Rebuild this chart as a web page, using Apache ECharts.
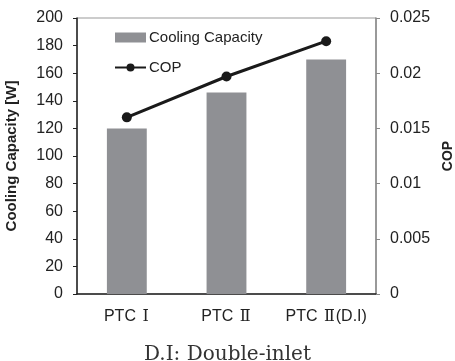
<!DOCTYPE html>
<html>
<head>
<meta charset="utf-8">
<script src="https://cdn.jsdelivr.net/npm/echarts@6/dist/echarts.min.js"></script>
<style>
  html, body { margin: 0; padding: 0; background: #fff; }
  #chart { width: 455px; height: 361px; }
</style>
</head>
<body>
<div id="chart"></div>
<script>
// Cooling capacity (bars, left axis) and COP (line, right axis) per PTC configuration
const categories = ['PTC Ⅰ', 'PTC Ⅱ', 'PTC Ⅱ(D.I)'];
const coolingCapacity = [120, 146, 170];
const cop = [0.016, 0.0197, 0.0229];
const leftTicks = { min: 0, max: 200, interval: 20 };
const rightTicks = { min: 0, max: 0.025, interval: 0.005 };

const font = '"Liberation Sans", Arial, sans-serif';
const serif = '"DejaVu Serif", "Liberation Serif", serif';
const chart = echarts.init(document.getElementById('chart'));

// Roman numerals in the category names get a serif face
function categoryLabel(value) {
  return value
    .split(/([ⅠⅡ])/)
    .filter(s => s !== '')
    .map(s => (s === 'Ⅰ' || s === 'Ⅱ') ? '{r|' + s + '}' : '{t|' + s + '}')
    .join('');
}

chart.setOption({
  animation: false,
  grid: {
    left: 77, right: 79, top: 18, bottom: 67,
    outerBoundsMode: 'none', containLabel: false,
    show: true, borderColor: '#999', borderWidth: 1
  },
  title: {
    text: 'D.I: Double-inlet',
    left: 'center',
    top: 340,
    textStyle: { fontFamily: serif, fontSize: 20, fontWeight: 'normal', color: '#333' }
  },
  legend: {
    orient: 'vertical',
    left: 109,
    top: 24,
    itemGap: 13,
    itemWidth: 31,
    itemHeight: 10,
    textStyle: { fontFamily: font, fontSize: 15, color: '#222', lineHeight: 17, padding: [0, 0, 0, -2] },
    data: [
      { name: 'Cooling Capacity', icon: 'rect' },
      { name: 'COP' }
    ]
  },
  xAxis: {
    type: 'category',
    data: categories,
    axisLine: { lineStyle: { color: '#222', width: 1.5 } },
    axisTick: { show: false },
    axisLabel: {
      interval: 0,
      fontFamily: font, fontSize: 16, color: '#222', margin: 15,
      formatter: categoryLabel,
      rich: {
        t: { fontFamily: font, fontSize: 16, color: '#222' },
        r: { fontFamily: serif, fontSize: 16, color: '#222', padding: [0, 1, 0, 2] }
      }
    }
  },
  yAxis: [
    {
      type: 'value',
      min: leftTicks.min, max: leftTicks.max, interval: leftTicks.interval,
      name: 'Cooling Capacity [W]',
      nameLocation: 'middle',
      nameGap: 58,
      nameTextStyle: { fontFamily: font, fontSize: 15, fontWeight: 'bold', color: '#222' },
      axisLine: { show: true, lineStyle: { color: '#222', width: 1.5 } },
      axisTick: { show: true, length: 4, lineStyle: { color: '#222' } },
      axisLabel: { fontFamily: font, fontSize: 16, color: '#222', margin: 14 },
      splitLine: { show: false }
    },
    {
      type: 'value',
      min: rightTicks.min, max: rightTicks.max, interval: rightTicks.interval,
      name: 'COP',
      nameLocation: 'middle',
      nameGap: 64,
      nameRotate: 90,
      nameTextStyle: { fontFamily: font, fontSize: 14, fontWeight: 'bold', color: '#222' },
      axisLine: { show: true, lineStyle: { color: '#888', width: 1.5 } },
      axisTick: { show: true, length: 4, lineStyle: { color: '#888' } },
      axisLabel: { fontFamily: font, fontSize: 16, color: '#222', margin: 14 },
      splitLine: { show: false }
    }
  ],
  series: [
    {
      name: 'Cooling Capacity',
      type: 'bar',
      yAxisIndex: 0,
      data: coolingCapacity,
      barWidth: '40%',
      itemStyle: { color: '#8f9094' }
    },
    {
      name: 'COP',
      type: 'line',
      yAxisIndex: 1,
      data: cop,
      symbol: 'circle',
      symbolSize: 10,
      lineStyle: { color: '#1a1a1a', width: 3 },
      itemStyle: { color: '#1a1a1a' }
    }
  ]
});
</script>
</body>
</html>
